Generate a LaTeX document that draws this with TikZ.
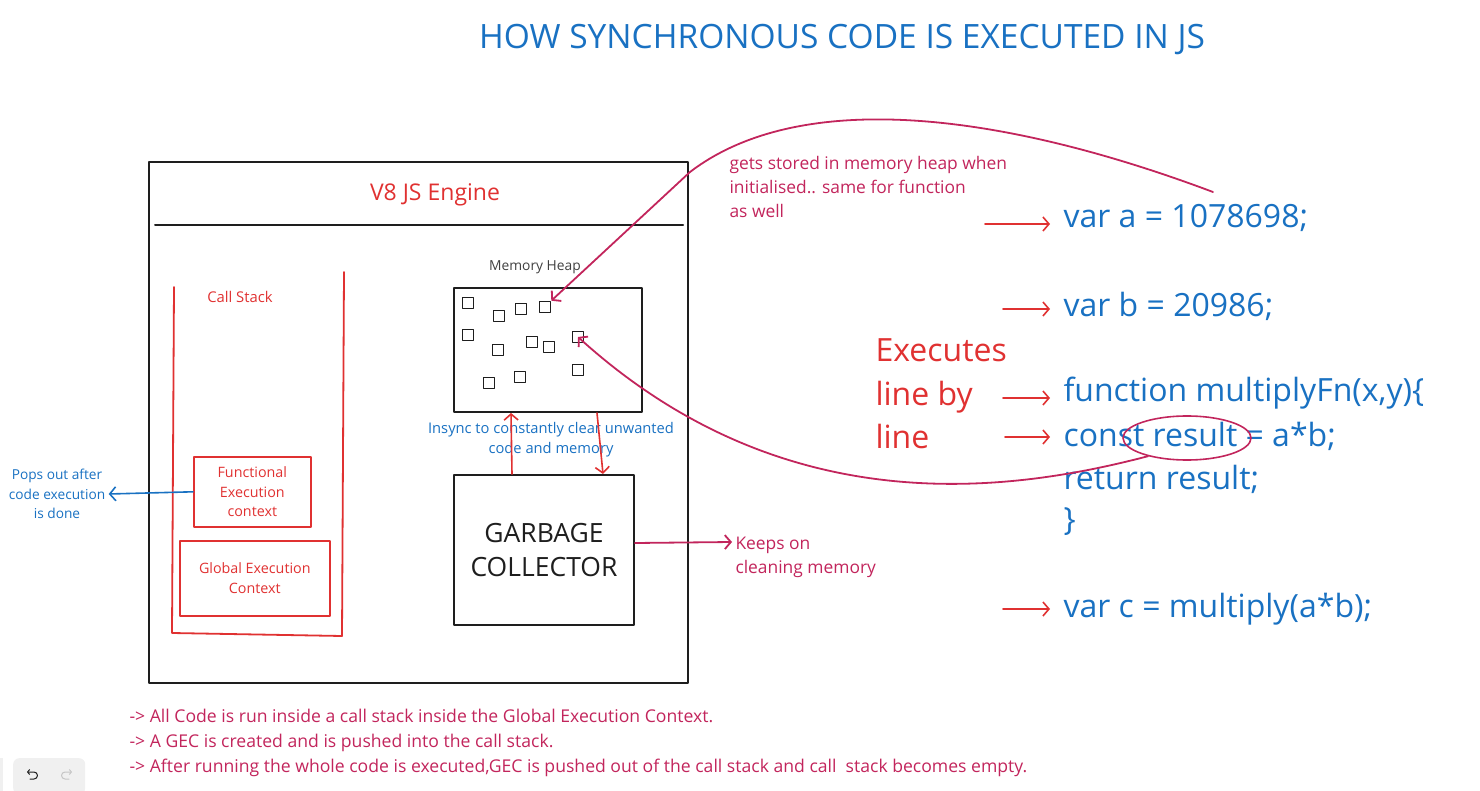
\documentclass[tikz,border=0pt]{standalone}
\usepackage{fontspec}
\setmainfont{Open Sans}
\usetikzlibrary{arrows.meta,shapes.geometric,positioning}
\definecolor{jsblue}{HTML}{1971C2}
\definecolor{jsred}{HTML}{E03131}
\definecolor{jspink}{HTML}{C2255C}
\definecolor{ink}{HTML}{1E1E1E}
\newcommand\fsz[2]{\fontsize{#1}{#2}\selectfont}
\begin{document}
\begin{tikzpicture}[x=1pt,y=-1pt,line join=round,line cap=round,>={Straight Barb[length=6pt,width=14pt]},
  box/.style={draw=ink,line width=2pt,inner sep=0pt},
  redbox/.style={draw=jsred,line width=1.6pt,inner sep=0pt,text=jsred},
  sq/.style={draw=ink,line width=1.6pt,minimum size=11pt,inner sep=0pt},
  redarr/.style={->,draw=jsred,line width=1.6pt,shorten >=10pt},
  pinkarr/.style={->,draw=jspink,line width=1.8pt},
  bluearr/.style={->,draw=jsblue,line width=1.6pt},
  code/.style={anchor=west,text=jsblue,font=\fsz{32}{34}},
  small/.style={align=center,font=\fsz{14.3}{19.5}}]
\useasboundingbox (0,0) rectangle (1480,791);
\node[text=jsblue,font=\fsz{33.5}{36}] (title) at (842,40) {HOW SYNCHRONOUS CODE IS EXECUTED IN JS};
% engine
\node[box,anchor=north west,minimum width=539pt,minimum height=521pt] (engine) at (148,161) {};
\draw[ink,line width=2pt] (155,225) -- (683,225);
\node[text=jsred,font=\fsz{23}{28}] (v8) at (435,195) {V8 JS Engine};
% call stack
\draw[jsred,line width=1.8pt] (174,287) -- (172,633) -- (342,636) -- (344,272);
\node[text=jsred,font=\fsz{14.8}{16}] (cs) at (240,297) {Call Stack};
\node[redbox,small,anchor=north west,minimum width=117pt,minimum height=70pt] (fec) at (193,456) {Functional\\Execution\\context};
\node[redbox,small,anchor=north west,minimum width=150pt,minimum height=75pt] (gec) at (179,540) {Global Execution\\Context};
\node[text=jsblue,small,font=\fsz{13.7}{19.5}] (pops) at (57,494) {Pops out after\\code execution\\is done};
\draw[bluearr] (fec.west) -- (pops.east);
% heap
\node[text=ink!85,font=\fsz{13.8}{16}] (mhl) at (535,267) {Memory Heap};
\node[box,anchor=north west,minimum width=188pt,minimum height=124pt] (heap) at (453,287) {};
\foreach \x/\y [count=\i] in {468/303,499/316,521/309,545/307,468/335,498/350,532/342,549/347,578/337,489/383,520/377,578/370}
  \node[sq] (s\i) at (\x,\y) {};
\node[text=jsblue,small,font=\fsz{14.7}{20}] (insync) at (551,440) {Insync to constantly clear unwanted\\code and memory};
\node[box,anchor=north west,minimum width=180pt,minimum height=150pt,align=center,text=ink,font=\fsz{26.5}{34}] (gc) at (453,474) {GARBAGE\\COLLECTOR};
\draw[redarr,shorten >=0pt] ([xshift=59pt]gc.north west) -- ([xshift=58pt]heap.south west);
\draw[redarr,shorten >=0pt] ([xshift=144pt]heap.south west) -- ([xshift=150pt]gc.north west);
\node[text=jspink,anchor=west,align=left,font=\fsz{17.4}{24}] (keeps) at (732,557) {Keeps on\\cleaning memory};
\draw[pinkarr] ([yshift=7pt]gc.east) -- ([yshift=15pt]keeps.west);
% code
\node[text=jspink,anchor=north west,align=left,font=\fsz{17.4}{24}] (gets) at (726,153) {gets stored in memory heap when\\initialised.. same for function\\as well};
\node[code] (va) at (1060,218) {var a = 1078698;};
\node[code] (vb) at (1060,306) {var b = 20986;};
\node[code] (fn) at (1060,393) {function multiplyFn(x,y)\{};
\node[code] (cr) at (1060,436) {const result = a*b;};
\node[code] (rr) at (1060,479) {return result;};
\node[code] (cb) at (1060,522) {\}};
\node[code] (vc) at (1060,609) {var c = multiply(a*b);};
\node[text=jsred,anchor=west,align=left,font=\fsz{32}{43.5}] (exec) at (872,394) {Executes\\line by\\line};
\foreach \n/\x/\y in {va/985/224,vb/1003/309,fn/1003/398,cr/1005/437,vc/1003/609}{
  \coordinate (t\n) at (\x,\y);
  \draw[redarr] (t\n) -- (t\n -| \n.west);
}
\node[ellipse,draw=jspink,line width=1.6pt,minimum width=128pt,minimum height=44pt] (circ) at (1187,438) {};
\coordinate (vatop) at (1213,192);
\draw[pinkarr] (vatop) .. controls (1000,112) and (800,88) .. (690,172) -- (s4.north east);
\draw[pinkarr] (circ.205) .. controls (1000,495) and (780,520) .. (s9.center);
% notes
\node[text=jspink,anchor=north west,align=left,font=\fsz{17.6}{25}] (notes) at (126,706) {-> All Code is run inside a call stack inside the Global Execution Context.\\-> A GEC is created and is pushed into the call stack.\\-> After running the whole code is executed,GEC is pushed out of the call stack and call\ \ stack becomes empty.};
% undo bar
\fill[gray!12] (-5,758) rectangle (3,795);
\node[fill=gray!12,rounded corners=6pt,anchor=north west,minimum width=72pt,minimum height=36pt] (undo) at (13,758) {};
\draw[ink,line width=1pt,<-,>={Straight Barb[length=2pt,width=5pt]}] (27,772) -- (34,772) arc[start angle=-90,end angle=90,radius=3.5] -- (30,779);
\draw[gray!45,line width=1pt,<-,>={Straight Barb[length=2pt,width=5pt]}] (72,772) -- (65,772) arc[start angle=270,end angle=90,radius=3.5] -- (69,779);
\end{tikzpicture}
\end{document}
